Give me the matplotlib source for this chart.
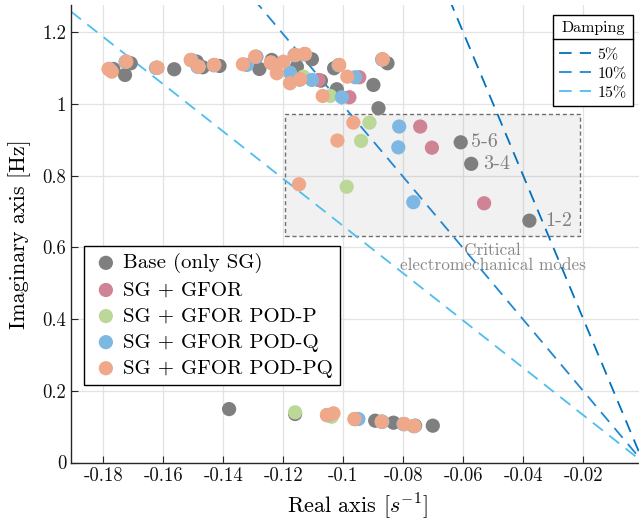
import numpy as np
import matplotlib
matplotlib.use("Agg")
import matplotlib.pyplot as plt
from matplotlib.patches import Rectangle
from matplotlib.lines import Line2D

plt.rcParams["font.family"] = "serif"
plt.rcParams["font.serif"] = ["cmr10", "DejaVu Serif"]
plt.rcParams["mathtext.fontset"] = "cm"
plt.rcParams["axes.unicode_minus"] = False

# Eigenvalues (real part [1/s], imaginary part [Hz]) for each configuration
x_base = [-0.1767, -0.1728, -0.1709, -0.1564, -0.1489, -0.1469, -0.1413, -0.1280, -0.1239,
          -0.1155, -0.1105, -0.1075, -0.1031, -0.1022, -0.0900, -0.0883, -0.0853,
          -0.0609, -0.0574, -0.0380,
          -0.1381, -0.1161, -0.0894, -0.0833, -0.0761, -0.0702]
y_base = [1.0976, 1.0809, 1.1135, 1.0968, 1.1180, 1.1024, 1.1060, 1.0976, 1.1227,
          1.1040, 1.1247, 1.0650, 1.0996, 1.0410, 1.0530, 0.9880, 1.1135,
          0.893, 0.833, 0.6745,
          0.149, 0.1353, 0.1166, 0.1110, 0.1027, 0.1027]

x_gfor = [-0.1780, -0.1724, -0.1620, -0.1507, -0.1484, -0.1430, -0.1290, -0.1241, -0.1160,
          -0.1129, -0.1083, -0.1145, -0.1015, -0.0947, -0.0980, -0.0870,
          -0.0744, -0.0705, -0.0531,
          -0.1054, -0.0962, -0.0872, -0.0798, -0.0764]
y_gfor = [1.0975, 1.1178, 1.1010, 1.1225, 1.1038, 1.1085, 1.1315, 1.1150, 1.1365,
          1.1390, 1.0670, 1.0685, 1.1085, 1.0745, 1.0187, 1.1245,
          0.937, 0.878, 0.723,
          0.1322, 0.1210, 0.1137, 0.1072, 0.1017]

x_podp = [-0.1781, -0.1725, -0.1622, -0.1508, -0.1483, -0.1431, -0.1293, -0.1241, -0.1161,
          -0.1129, -0.1133, -0.1015, -0.1044, -0.0870,
          -0.0913, -0.0941, -0.0989,
          -0.1161, -0.1039, -0.0963, -0.0872, -0.0798, -0.0764]
y_podp = [1.0975, 1.1178, 1.1012, 1.1225, 1.1039, 1.1087, 1.1318, 1.1150, 1.1366,
          1.1393, 1.0760, 1.1086, 1.0223, 1.1245,
          0.948, 0.897, 0.769,
          0.140, 0.1277, 0.1212, 0.1137, 0.1073, 0.1017]

x_podq = [-0.1780, -0.1726, -0.1625, -0.1506, -0.1486, -0.1432, -0.1322, -0.1291, -0.1240,
          -0.1178, -0.1163, -0.1131, -0.1105, -0.1146, -0.1016, -0.0961, -0.1005, -0.0871,
          -0.0814, -0.0817, -0.0767,
          -0.1053, -0.0950, -0.0870, -0.0800, -0.0766]
y_podq = [1.0970, 1.1175, 1.1005, 1.1220, 1.1035, 1.1080, 1.1088, 1.1310, 1.1145,
          1.0873, 1.1360, 1.1385, 1.0670, 1.0680, 1.1080, 1.0745, 1.0187, 1.1240,
          0.937, 0.879, 0.726,
          0.1320, 0.1213, 0.1135, 0.1070, 0.1015]

x_podpq = [-0.1783, -0.1772, -0.1724, -0.1622, -0.1509, -0.1483, -0.1431, -0.1335, -0.1294,
           -0.1242, -0.1200, -0.1222, -0.1178, -0.1144, -0.1161, -0.1128, -0.1014, -0.0987,
           -0.1069, -0.0869,
           -0.0967, -0.1020, -0.1148,
           -0.1055, -0.1033, -0.0963, -0.0872, -0.0798, -0.0764]
y_podpq = [1.0976, 1.0901, 1.1180, 1.1013, 1.1227, 1.1040, 1.1088, 1.1107, 1.1320,
           1.1152, 1.1180, 1.0856, 1.0577, 1.0689, 1.1367, 1.1395, 1.1088, 1.0762,
           1.0223, 1.1247,
           0.948, 0.898, 0.776,
           0.1325, 0.1372, 0.1213, 0.1138, 0.1074, 0.1018]

series_labels = ["Base (only SG)", "SG + GFOR", "SG + GFOR POD-P",
                 "SG + GFOR POD-Q", "SG + GFOR POD-PQ"]
series_colors = ["#7f7f7f", "#cf8394", "#bcd898", "#7eb8e2", "#efa98a"]

damping_ratios = [0.05, 0.10, 0.15]
damping_labels = ["5%", "10%", "15%"]
damping_colors = ["#0072BD", "#1E88D2", "#4DBEEE"]

xticks = [-0.18, -0.16, -0.14, -0.12, -0.10, -0.08, -0.06, -0.04, -0.02]
xtick_labels = ["-0.18", "-0.16", "-0.14", "-0.12", "-0.1", "-0.08", "-0.06", "-0.04", "-0.02"]
yticks = [0, 0.2, 0.4, 0.6, 0.8, 1.0, 1.2]
ytick_labels = ["0", "0.2", "0.4", "0.6", "0.8", "1", "1.2"]

mode_labels = ["5-6", "3-4", "1-2"]
mode_label_pos = [(-0.0575, 0.893), (-0.0535, 0.833), (-0.0328, 0.6745)]

W, H = 639, 523
fig = plt.figure(figsize=(W / 100, H / 100), dpi=100)
xmin, xmax = -0.1908, 0.0
ymin, ymax = 0.0, 1.276
ax_left, ax_bottom, ax_top = 71, 462.5, 5
ax_w = (xmax - xmin) * 3000
ax = fig.add_axes([ax_left / W, (H - ax_bottom) / H, ax_w / W, (ax_bottom - ax_top) / H])
ax.set_xlim(xmin, xmax)
ax.set_ylim(ymin, ymax)

ax.grid(True, color="#e3e3e3", linewidth=0.9, zorder=0)
ax.set_axisbelow(True)
for s in ("top", "right"):
    ax.spines[s].set_visible(False)
for s in ("left", "bottom"):
    ax.spines[s].set_color("#262626")
    ax.spines[s].set_linewidth(1.0)
ax.tick_params(direction="in", length=5, width=0.8, color="#262626", labelsize=13.5,
               labelcolor="#111111")
ax.set_xticks(xticks, xtick_labels)
ax.set_yticks(yticks, ytick_labels)

# Critical electromechanical modes region
ax.add_patch(Rectangle((-0.1195, 0.632), 0.0982, 0.340, facecolor=(0.5, 0.5, 0.5, 0.11),
                       edgecolor="#707070", linestyle=(0, (3, 2)), linewidth=1.0, zorder=1))
ax.text(-0.0503, 0.571, "Critical\nelectromechanical modes", ha="center", va="center",
        fontsize=12.4, color="#888888", linespacing=0.95, zorder=2)

# Constant damping lines
xs = np.array([xmin, 0.0])
damp_handles = []
for z, lab, c in zip(damping_ratios, damping_labels, damping_colors):
    ys = -xs * np.sqrt(1 - z ** 2) / z
    h, = ax.plot(xs, ys, color=c, linewidth=1.3, linestyle=(0, (7, 4.5)), label=lab, zorder=2)
    damp_handles.append(h)

# Eigenvalues
xs_all = [x_base, x_gfor, x_podp, x_podq, x_podpq]
ys_all = [y_base, y_gfor, y_podp, y_podq, y_podpq]
pt_handles = []
for i, (xv, yv, lab, c) in enumerate(zip(xs_all, ys_all, series_labels, series_colors)):
    h = ax.scatter(xv, yv, s=105, color=c, edgecolors="none", label=lab, zorder=3 + i)
    pt_handles.append(h)

for lab, (lx, ly) in zip(mode_labels, mode_label_pos):
    ax.text(lx, ly, lab, ha="left", va="center", fontsize=14.5, color="#808080", zorder=9)

ax.set_xlabel("Real axis [$s^{-1}$]", fontsize=16, labelpad=4)
ax.set_ylabel("Imaginary axis [Hz]", fontsize=16, labelpad=8)

leg_pts = ax.legend(handles=pt_handles, loc="lower left",
                    bbox_to_anchor=((84 - ax_left) / ax_w, (ax_bottom - 385) / (ax_bottom - ax_top)),
                    borderaxespad=0, fontsize=15, frameon=True, fancybox=False,
                    edgecolor="black", framealpha=1, handletextpad=0.1, labelspacing=0.36,
                    borderpad=0.35, handlelength=1.4, scatterpoints=1)
leg_pts.get_frame().set_linewidth(1.0)
ax.add_artist(leg_pts)

leg_d = ax.legend(handles=damp_handles, loc="upper right",
                  bbox_to_anchor=((633 - ax_left) / ax_w, (ax_bottom - 15) / (ax_bottom - ax_top)),
                  borderaxespad=0, fontsize=11.5, title="Damping", title_fontsize=11.5,
                  frameon=True, fancybox=False, edgecolor="black", framealpha=1,
                  handlelength=2.0, handletextpad=0.4, labelspacing=0.3, borderpad=0.4)
leg_d.get_frame().set_linewidth(1.0)
leg_d._legend_box.sep = 9
leg_d.set_zorder(20)
leg_pts.set_zorder(20)

# Separator under the damping legend title
fig.canvas.draw()
fb = leg_d.get_frame().get_window_extent()
tb = leg_d.get_title().get_window_extent()
ysep = (tb.y0 - 4) / H
fig.add_artist(Line2D([fb.x0 / W, fb.x1 / W], [ysep, ysep], color="black", linewidth=1.0,
                      zorder=30))

fig.savefig("out.png", dpi=100)
